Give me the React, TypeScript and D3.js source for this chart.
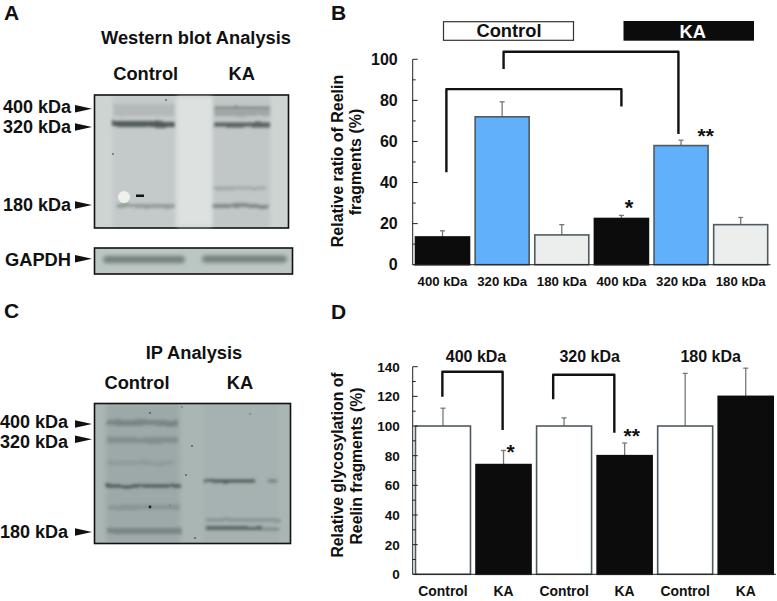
import React from "react";
import * as d3 from "d3";

const FONT = "'Liberation Sans', Arial, sans-serif";
const INK = "#111";

const fragmentLabels = ["400 kDa", "320 kDa", "180 kDa", "400 kDa", "320 kDa", "180 kDa"];
const ratioValues = [13.5, 72, 14.5, 22.5, 58, 19.5];
const ratioErrors = [3, 7.3, 5, 1.5, 2.6, 3.5];
const ratioFills = ["#0c0c0c", "#60b0fb", "#eceeee", "#0c0c0c", "#60b0fb", "#eceeee"];
const ratioTicks = [0, 20, 40, 60, 80, 100];
const ratioMinor = [10, 30, 50, 70, 90];

const groupLabels = ["Control", "KA", "Control", "KA", "Control", "KA"];
const glycoValues = [100, 74, 100, 80, 100, 120];
const glycoErrors = [12, 9.5, 5.5, 8.5, 35.5, 19];
const glycoFills = ["#fff", "#0c0c0c", "#fff", "#0c0c0c", "#fff", "#0c0c0c"];
const glycoTicks = [0, 20, 40, 60, 80, 100, 120, 140];
const glycoMinor = [10, 30, 50, 70, 90, 110, 130];
const fragmentHeads = ["400 kDa", "320 kDa", "180 kDa"];

// brackets: band-position (x) and value (y) units
const ratioBrackets = [
  { x0: 0.565, y0: 45, x1: 3.5, y1: 77, top: 85.5 },
  { x0: 1.524, y0: 95.3, x1: 4.456, y1: 63.6, top: 103.7 },
];
const glycoBrackets = [
  { x0: 0.49, y0: 119.8, x1: 1.485, y1: 97.3, top: 136.6 },
  { x0: 2.32, y0: 118, x1: 3.33, y1: 95.5, top: 134.6 },
];

function BarPanel(p: {
  left: number; right: number; bottom: number; top: number; max: number;
  values: number[]; errors: number[]; fills: string[]; labels: string[];
  ticks: number[]; minor: number[]; brackets: any[]; tickSize: number; tickGap: number; labelSize: number; barWidth: number; labelY: number;
}) {
  const y = d3.scaleLinear().domain([0, p.max]).range([p.bottom, p.top]);
  const x = (i: number) => p.left + ((p.right - p.left) / p.values.length) * i;
  const line = d3.line();
  return (
    <g fontFamily={FONT} fontWeight="bold" fill={INK}>
      {p.values.map((v, i) => {
        const cx = x(i + 0.5);
        return (
          <g key={i}>
            <path d={line([[cx, y(v)], [cx, y(v + p.errors[i])]])!} stroke="#777" strokeWidth={1.3} fill="none" />
            <path d={line([[cx - 2.5, y(v + p.errors[i])], [cx + 2.5, y(v + p.errors[i])]])!} stroke="#777" strokeWidth={1.3} fill="none" />
            <rect x={cx - p.barWidth / 2} y={y(v)} width={p.barWidth} height={y(0) - y(v)} fill={p.fills[i]} stroke={p.fills[i] === "#0c0c0c" ? "#0c0c0c" : "#4f5a60"} strokeWidth={1.6} />
            <text x={cx} y={p.labelY} textAnchor="middle" fontSize={p.labelSize}>{p.labels[i]}</text>
          </g>
        );
      })}
      <path d={line([[p.left, y(p.max)], [p.left, y(0)], [p.right, y(0)]])!} stroke="#222" strokeWidth={1} fill="none" />
      {p.ticks.map((t) => (
        <g key={t}>
          <path d={line([[p.left, y(t)], [p.left + 5, y(t)]])!} stroke="#222" strokeWidth={1} />
          <text x={p.left - p.tickGap} y={y(t) + p.tickSize * 0.36} textAnchor="end" fontSize={p.tickSize}>{t}</text>
        </g>
      ))}
      {p.minor.map((t) => (
        <path key={t} d={line([[p.left, y(t)], [p.left + 3, y(t)]])!} stroke="#222" strokeWidth={1} />
      ))}
      {p.brackets.map((b, i) => (
        <path key={i} d={line([[x(b.x0), y(b.y0)], [x(b.x0), y(b.top)], [x(b.x1), y(b.top)], [x(b.x1), y(b.y1)]])!} stroke="#111" strokeWidth={2.4} fill="none" strokeLinejoin="round" />
      ))}
    </g>
  );
}

// lane bands for the blot images: [x0, x1, y, thickness, opacity]
const blotABands = [
  [113, 175, 110, 12, 0.1], [214, 270, 108, 3, 0.4], [214, 270, 113, 6, 0.22],
  [113, 175, 124, 6, 0.75], [214, 270, 125, 5, 0.7],
  [117, 175, 206, 4, 0.3], [211, 268, 206, 4, 0.42], [212, 266, 188, 3, 0.2],
];
const blotCBands = [
  [107, 178, 423, 6, 0.3], [107, 178, 440, 6, 0.22], [107, 175, 463, 5, 0.1],
  [106, 181, 486, 3, 0.75], [204, 255, 481, 3, 0.75], [268, 277, 481, 3, 0.4],
  [107, 180, 507, 5, 0.16], [107, 182, 531, 6, 0.3], [206, 280, 520, 3, 0.25], [206, 262, 528, 4, 0.6], [262, 280, 529, 3, 0.3],
];
const blotCLanes = [[106, 180, 0.08], [204, 278, 0.02]];
const blotALanes = [[113, 175, 0.05], [212, 270, 0.07]];
const gapdhBands = [[103, 185, 259.5, 7], [202, 287, 259, 7]];
const speckX = [166, 113, 150, 170, 186, 192, 195, 150, 182, 250];
const speckY = [100, 154, 507, 505, 475, 446, 538, 413, 407, 414];
const speckR = [0.8, 0.8, 1.4, 0.6, 1, 1, 1, 1, 0.7, 0.7];

const rowLabels = ["400 kDa", "320 kDa", "180 kDa"];
const rowsA = [[112.7, 108.7], [133, 127], [210.7, 205]];
const rowsC = [[428, 424], [448, 439.3], [537.7, 532]];

function Arrow({ x, y }: { x: number; y: number }) {
  return <path d={d3.line()([[x, y - 3.8], [x + 17, y], [x, y + 3.8]])! + "Z"} fill="#111" />;
}

function Blot(p: { x: number; y: number; w: number; h: number; bg: string; bands: number[][]; lanes: number[][] }) {
  return (
    <g>
      <rect x={p.x} y={p.y} width={p.w} height={p.h} fill={p.bg} />
      <g clipPath={`url(#clip${p.y})`}>
        <clipPath id={`clip${p.y}`}><rect x={p.x} y={p.y} width={p.w} height={p.h} /></clipPath>
        {p.lanes.map((l, i) => (
          <rect key={i} x={l[0]} y={p.y} width={l[1] - l[0]} height={p.h} fill="#223" opacity={l[2]} filter="url(#lane)" />
        ))}
        {p.bands.map((b, i) => (
          <rect key={i} x={b[0]} y={b[2] - b[3] / 2} width={b[1] - b[0]} height={b[3]} fill="#2a3433" opacity={b[4]} filter="url(#soft)" />
        ))}
      </g>
      <rect x={p.x} y={p.y} width={p.w} height={p.h} fill="none" stroke="#111" strokeWidth={1.6} />
    </g>
  );
}

export default function App() {
  return (
    <svg width={777} height={601} style={{ position: "absolute", left: 0, top: 0, background: "#fff" }}>
      <defs>
        <filter id="soft" filterUnits="userSpaceOnUse" x="0" y="0" width="777" height="601">
          <feTurbulence type="fractalNoise" baseFrequency="0.06" numOctaves="2" seed="3" result="n" />
          <feDisplacementMap in="SourceGraphic" in2="n" scale="3" result="d" />
          <feGaussianBlur in="d" stdDeviation="1.5" />
        </filter>
        <filter id="lane" filterUnits="userSpaceOnUse" x="0" y="0" width="777" height="601">
          <feGaussianBlur stdDeviation="2" />
        </filter>
      </defs>
      <g fontFamily={FONT} fontWeight="bold" fill={INK}>
        <text x={4} y={20} fontSize={21}>A</text>
        <text x={331} y={20} fontSize={21}>B</text>
        <text x={4} y={318} fontSize={21}>C</text>
        <text x={331} y={319} fontSize={21}>D</text>

        <text x={196} y={43.7} fontSize={18.3} textAnchor="middle">Western blot Analysis</text>
        <text x={145.7} y={80} fontSize={18.3} textAnchor="middle">Control</text>
        <text x={241.7} y={80} fontSize={18.3} textAnchor="middle">KA</text>
        <text x={194} y={358.7} fontSize={18.3} textAnchor="middle">IP Analysis</text>
        <text x={137} y={389.3} fontSize={18.3} textAnchor="middle">Control</text>
        <text x={240} y={389.3} fontSize={18.3} textAnchor="middle">KA</text>

        {rowLabels.map((t, i) => (
          <g key={i}>
            <text x={3} y={rowsA[i][0]} fontSize={18}>{t}</text>
            <Arrow x={75} y={rowsA[i][1]} />
            <text x={0} y={rowsC[i][0]} fontSize={18}>{t}</text>
            <Arrow x={75} y={rowsC[i][1]} />
          </g>
        ))}
        <text x={5} y={265.7} fontSize={18.3}>GAPDH</text>
        <Arrow x={75} y={258.7} />
      </g>

      <Blot x={94.5} y={95} w={194} h={133} bg="#cdd4d2" bands={blotABands} lanes={blotALanes} />
      <rect x={177} y={97} width={35} height={129} fill="#dde2e0" filter="url(#lane)" />
      <circle cx={124} cy={197} r={6} fill="#eef0ee" />
      <rect x={136} y={194.5} width={8} height={2.5} fill="#111" />
      <rect x={94.5} y={248} width={198} height={26} fill="#bcc7c3" />
      {gapdhBands.map((b, i) => (
        <rect key={i} x={b[0]} y={b[2] - b[3] / 2} width={b[1] - b[0]} height={b[3]} rx={3.5} fill="#6f7f7a" filter="url(#lane)" />
      ))}
      <rect x={94.5} y={248} width={198} height={26} fill="none" stroke="#111" strokeWidth={1.6} />

      <Blot x={94.5} y={403.5} w={196} h={140} bg="#a9b6b4" bands={blotCBands} lanes={blotCLanes} />
      {speckX.map((sx, i) => <circle key={i} cx={sx} cy={speckY[i]} r={speckR[i]} fill="#222" opacity={i < 3 ? 1 : 0.6} />)}

      {/* Panel B */}
      <rect x={443.5} y={21.7} width={130} height={18.6} fill="#fff" stroke="#333" strokeWidth={1.2} />
      <rect x={623.5} y={21} width={130.5} height={19.7} fill="#0c0c0c" />
      <g fontFamily={FONT} fontWeight="bold" textAnchor="middle" fontSize={18.3}>
        <text x={509} y={37.3} fill={INK}>Control</text>
        <text x={692.7} y={38.3} fill="#fff">KA</text>
      </g>
      <BarPanel left={412.7} right={770.5} bottom={264.7} top={59.3} max={100}
        values={ratioValues} errors={ratioErrors} fills={ratioFills} labels={fragmentLabels}
        ticks={ratioTicks} minor={ratioMinor} brackets={ratioBrackets} tickSize={16} tickGap={15} labelSize={13.2} barWidth={54} labelY={286} />
      <g fontFamily={FONT} fontWeight="bold" fontSize={16} fill={INK} textAnchor="middle">
        <text transform="translate(343.3,161) rotate(-90)">Relative ratio of Reelin</text>
        <text transform="translate(361,162) rotate(-90)">fragments (%)</text>
        <text x={629} y={215} fontSize={22}>*</text>
        <text x={705.7} y={143} fontSize={21}>**</text>
      </g>

      {/* Panel D */}
      <BarPanel left={412.7} right={776} bottom={574.3} top={366.7} max={140}
        values={glycoValues} errors={glycoErrors} fills={glycoFills} labels={groupLabels}
        ticks={glycoTicks} minor={glycoMinor} brackets={glycoBrackets} tickSize={13.5} tickGap={13} labelSize={13.9} barWidth={55} labelY={596} />
      <g fontFamily={FONT} fontWeight="bold" fontSize={15.8} fill={INK} textAnchor="middle">
        <text transform="translate(342.7,465) rotate(-90)">Relative glycosylation of</text>
        <text transform="translate(362,466) rotate(-90)">Reelin fragments (%)</text>
        {fragmentHeads.map((t, i) => (
          <text key={i} x={[476, 589.7, 710.7][i]} y={362.3} fontSize={16}>{t}</text>
        ))}
        <text x={510.5} y={459} fontSize={21}>*</text>
        <text x={631.7} y={443} fontSize={21}>**</text>
      </g>
    </svg>
  );
}
